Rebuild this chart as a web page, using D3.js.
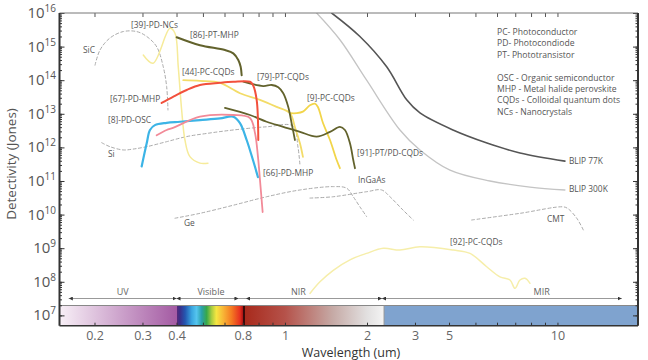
<!DOCTYPE html>
<html>
<head>
<meta charset="utf-8">
<script src="https://cdn.jsdelivr.net/npm/d3@7"></script>
<style>
  body { margin: 0; background: #fff; }
  text { font-family: "Open Sans", sans-serif; }
</style>
</head>
<body>
<svg id="chart" width="648" height="360"></svg>
<script>
// all curves: [wavelength (um), detectivity (Jones)]
const blip77 = [[1.484, 1e16], [1.884, 2.0e15], [2.362, 2.5e14], [2.797, 2.6e13], [3.129, 1.06e13], [4.136, 3.3e12], [5.512, 1.35e12], [7.285, 6.8e11], [10.65, 3.9e11]];
const blip300 = [[1.307, 1e16], [1.591, 1.6e15], [1.994, 1.0e14], [2.642, 3.3e12], [3.129, 8.4e11], [4.033, 2.1e11], [5.653, 1.0e11], [7.929, 6.6e10], [10.65, 5.4e10]];

const siC = [[0.2009, 2.8e14], [0.2095, 7.9e14], [0.2279, 1.8e15], [0.255, 2.8e15], [0.2856, 2.8e15], [0.3109, 2.0e15], [0.3382, 9.9e14], [0.3576, 2.5e14], [0.368, 6.4e13], [0.3721, 1.3e13]];
const si = [[0.2125, 1.38e12], [0.2279, 1.05e12], [0.255, 8.4e11], [0.2768, 8.9e11], [0.3109, 1.05e12], [0.368, 1.48e12], [0.4357, 2.1e12], [0.5161, 2.6e12], [0.6462, 3.3e12], [0.8566, 4.1e12], [1.07, 4.3e12], [1.116, 1.03e12], [1.135, 3.0e11]];
const inGaAs = [[1.235, 3.1e10], [1.504, 3.4e10], [1.994, 4.8e10], [2.264, 5.4e10], [2.428, 3.4e10], [2.71, 1.37e10], [2.957, 6.9e9]];
const ge = [[0.3948, 7.8e9], [0.4876, 1.09e10], [0.6462, 1.9e10], [0.8566, 3.4e10], [1.135, 5.4e10], [1.504, 6.8e10], [1.684, 6.1e10], [1.781, 3.4e10], [1.884, 1.7e10], [1.994, 8.7e9]];
const cmt = [[4.843, 6.9e9], [7.285, 1.09e10], [10.5, 1.7e10], [10.93, 1.5e10], [11.77, 7.8e9], [12.44, 3.5e9]];

const pd39 = [[0.302, 5.6e14], [0.328, 3.2e14], [0.3784, 3.5e15], [0.3948, 2.5e15], [0.4059, 2.5e14], [0.4177, 1.3e13], [0.4295, 1.66e12], [0.448, 5.3e11], [0.4876, 3.4e11], [0.5217, 3.4e11]];
const pt86 = [[0.4005, 1.9e15], [0.4876, 1.1e15], [0.6023, 7.9e14], [0.6462, 6.3e14], [0.674, 4.0e14], [0.6877, 2.5e14], [0.6936, 1.4e14]];
const pc44 = [[0.4234, 1.0e14], [0.4876, 9.5e13], [0.5774, 8.3e13], [0.6838, 4.1e13], [0.8097, 2.6e13], [0.9322, 1.6e13], [1.043, 1.04e13], [1.088, 4.0e12], [1.135, 1.32e12], [1.164, 5.2e11]];
const pc9 = [[1.043, 1.04e13], [1.104, 1.04e13], [1.164, 1.16e13], [1.235, 1.8e13], [1.288, 2.0e13], [1.321, 1.6e13], [1.379, 5.3e12], [1.463, 1.66e12], [1.548, 4.2e11], [1.591, 2.4e11]];
const pt79 = [[0.7031, 9.0e13], [0.8325, 6.7e13], [0.8937, 7.2e13], [0.9449, 6.2e13], [0.9857, 4.1e13], [1.0283, 1.6e13], [1.058, 5.2e12], [1.088, 1.66e12]];
const pd67 = [[0.3527, 2.1e13], [0.3882, 3.2e13], [0.4357, 5.1e13], [0.4876, 7.2e13], [0.5774, 8.4e13], [0.6462, 9.0e13], [0.7437, 9.0e13], [0.7631, 7.2e13], [0.7873, 2.6e13], [0.7981, 1.66e12]];
const pd66 = [[0.3382, 2.3e12], [0.368, 3.3e12], [0.3882, 3.8e12], [0.4876, 8.2e12], [0.6462, 9.2e12], [0.7437, 7.5e12], [0.7761, 2.7e12], [0.7961, 5.2e11], [0.8097, 1.07e11], [0.8282, 1.19e10]];
const pd8 = [[0.2979, 2.7e11], [0.3109, 1.32e12], [0.3196, 3.3e12], [0.3333, 4.6e12], [0.368, 5.4e12], [0.4118, 5.8e12], [0.4876, 6.5e12], [0.5774, 7.3e12], [0.6462, 8.2e12], [0.6838, 5.3e12], [0.7235, 1.66e12], [0.7631, 4.2e11], [0.7961, 1.3e11]];
const pt91 = [[0.6023, 1.5e13], [0.7437, 9.2e12], [0.8566, 5.8e12], [0.9857, 4.1e12], [1.135, 2.9e12], [1.307, 2.1e12], [1.463, 2.9e12], [1.591, 4.1e12], [1.66, 3.3e12], [1.732, 1.32e12], [1.781, 4.2e11], [1.807, 2.4e11]];
const pc92 = [[1.235, 4.5e7], [1.344, 1.0e8], [1.504, 2.2e8], [1.732, 4.5e8], [1.994, 7.0e8], [2.295, 9.9e8], [2.642, 8.8e8], [3.129, 1.1e9], [4.147, 8.8e8], [4.774, 7.0e8], [5.499, 2.8e8], [6.152, 1.4e8], [6.694, 1.13e8], [6.983, 6.4e7], [7.285, 1.13e8], [7.6, 1.27e8], [7.929, 9.0e7]];

// curve labels: [text, wavelength, detectivity] (text starts there)
const curveLabels = [
  ["[39]-PD-NCs", 0.2722, 4.4e15], ["SiC", 0.1814, 7.9e14], ["[86]-PT-MHP", 0.448, 2.2e15],
  ["[44]-PC-CQDs", 0.4188, 1.75e14], ["[79]-PT-CQDs", 0.7892, 1.25e14], ["[67]-PD-MHP", 0.2279, 2.75e13],
  ["[9]-PC-CQDs", 1.204, 2.95e13], ["[8]-PD-OSC", 0.2241, 6.5e12], ["Si", 0.2241, 6.4e11],
  ["[91]-PT/PD-CQDs", 1.837, 6.8e11], ["[66]-PD-MHP", 0.8305, 1.73e11], ["InGaAs", 1.853, 1.07e11],
  ["Ge", 0.426, 5.6e9], ["CMT", 9.15, 7.4e9], ["[92]-PC-CQDs", 4.033, 1.53e9],
  ["BLIP 77K", 11.02, 3.9e11], ["BLIP 300K", 11.02, 5.8e10]
];

const legendLines = ["PC- Photoconductor", "PD- Photocondiode", "PT- Phototransistor", "",
  "OSC - Organic semiconductor", "MHP - Metal halide perovskite", "CQDs - Colloidal quantum dots", "NCs - Nanocrystals"];

// spectral bands above the colour bar
const bandNames = ["UV", "Visible", "NIR", "MIR"];
const bandRanges = [[0.161, 0.40], [0.40, 0.675], [0.72, 2.27], [2.27, 17.2]];
const bandLabelAt = [0.254, 0.535, 1.12, 8.75];

// colour bar stops [wavelength, colour]
const spectrumStops = [
  [0.1488, "#f8f0f7"], [0.40, "#a45ba3"], [0.40, "#5a2a78"], [0.412, "#3a2f8a"], [0.43, "#2456b0"],
  [0.455, "#3aa6e0"], [0.474, "#55c5ee"], [0.495, "#2aa0a8"], [0.516, "#38a848"], [0.538, "#a8cc40"],
  [0.56, "#f5e642"], [0.594, "#f8b436"], [0.637, "#f47a22"], [0.684, "#e63020"], [0.70, "#b01515"],
  [0.70, "#3a0a0a"], [0.712, "#3a0a0a"], [0.712, "#a82a1c"], [1.0, "#b5524a"], [1.5, "#c6aaa6"],
  [2.0, "#e2e0e0"], [2.31, "#f4f4f4"], [2.31, "#7fa3cf"], [19.75, "#7fa3cf"]
];

const xTickValues = [0.2, 0.3, 0.4, 0.5, 0.6, 0.7, 0.8, 0.9, 1, 2, 3, 4, 5, 6, 7, 8, 9, 10];
const xTickLabels = {0.2: "0.2", 0.3: "0.3", 0.4: "0.4", 0.7: "0.8", 1: "1", 2: "2", 3: "3", 4: "5", 10: "10"};
const yDecades = [7, 8, 9, 10, 11, 12, 13, 14, 15, 16];

const olive = "#62622c";
const series = [
  {data: siC, color: "#aaa", width: 1, dash: "3,2.5"},
  {data: si, color: "#aaa", width: 1, dash: "3,2.5"},
  {data: inGaAs, color: "#aaa", width: 1, dash: "3,2.5"},
  {data: ge, color: "#aaa", width: 1, dash: "3,2.5"},
  {data: cmt, color: "#aaa", width: 1, dash: "3,2.5"},
  {data: blip300, color: "#c4c4c4", width: 1.3},
  {data: blip77, color: "#555", width: 1.6},
  {data: pc92, color: "#f6eeaa", width: 1.5},
  {data: pd39, color: "#f6eb9a", width: 1.5},
  {data: pc44, color: "#f3dc68", width: 1.8},
  {data: pc9, color: "#f2d54a", width: 1.8},
  {data: pt91, color: olive, width: 1.8},
  {data: pt79, color: olive, width: 1.8},
  {data: pt86, color: olive, width: 2},
  {data: pd8, color: "#3cb4e6", width: 2.2},
  {data: pd66, color: "#f28a98", width: 1.8},
  {data: pd67, color: "#f2503c", width: 2}
];

const mLeft = 59.5, mRight = 638, mTop = 13, mBottom = 325.7;
const svg = d3.select("#chart");

const x = d3.scaleLog().domain([0.1488, 19.75]).range([mLeft, mRight]);
const y = d3.scaleLog().domain([Math.pow(10, 6.693), 1e16]).range([mBottom, mTop]);

// colour bar
const defs = svg.append("defs");
const grad = defs.append("linearGradient")
  .attr("id", "spec").attr("gradientUnits", "userSpaceOnUse")
  .attr("x1", mLeft).attr("x2", mRight).attr("y1", 0).attr("y2", 0);
spectrumStops.forEach(s => {
  grad.append("stop").attr("offset", (x(s[0]) - mLeft) / (mRight - mLeft)).attr("stop-color", s[1]);
});
defs.append("clipPath").attr("id", "plotclip")
  .append("rect").attr("x", mLeft).attr("y", mTop).attr("width", mRight - mLeft).attr("height", mBottom - mTop);

const barTop = 305.5;
svg.append("rect").attr("x", mLeft).attr("y", barTop).attr("width", mRight - mLeft).attr("height", mBottom - barTop)
  .attr("fill", "url(#spec)");
svg.append("line").attr("x1", mLeft).attr("x2", mRight).attr("y1", barTop).attr("y2", barTop)
  .attr("stroke", "#888").attr("stroke-width", 1);
svg.append("line").attr("x1", x(2.31)).attr("x2", x(2.31)).attr("y1", barTop).attr("y2", mBottom)
  .attr("stroke", "#999").attr("stroke-width", 1);

// band arrows
const arrowY = 298.5;
defs.append("marker").attr("id", "arr")
  .attr("viewBox", "0 0 10 10").attr("refX", 10).attr("refY", 5)
  .attr("markerWidth", 4).attr("markerHeight", 4).attr("markerUnits", "userSpaceOnUse")
  .attr("orient", "auto-start-reverse")
  .append("path").attr("d", "M0,0L10,5L0,10Z").attr("fill", "#333");
svg.append("line").attr("x1", x(0.161)).attr("x2", x(17.2)).attr("y1", arrowY).attr("y2", arrowY)
  .attr("stroke", "#999").attr("stroke-width", 1);
svg.append("g").selectAll("line").data(bandRanges).join("line")
  .attr("x1", d => x(d[0])).attr("x2", d => x(d[1]))
  .attr("y1", arrowY).attr("y2", arrowY)
  .attr("stroke", "#999").attr("stroke-width", 1)
  .attr("marker-start", "url(#arr)").attr("marker-end", "url(#arr)");
svg.append("g").selectAll("text").data(bandNames).join("text")
  .attr("x", (d, i) => x(bandLabelAt[i])).attr("y", 295)
  .attr("text-anchor", "middle").attr("font-size", 9).attr("fill", "#666")
  .text(d => d);

// curves
const line = d3.line()
  .x(d => x(d[0]))
  .y(d => y(d[1]))
  .curve(d3.curveCatmullRom.alpha(0.5));

svg.append("g").attr("clip-path", "url(#plotclip)")
  .selectAll("path").data(series).join("path")
  .attr("d", d => line(d.data))
  .attr("fill", "none")
  .attr("stroke", d => d.color)
  .attr("stroke-width", d => d.width)
  .attr("stroke-dasharray", d => d.dash || null)
  .attr("stroke-linecap", "round");

svg.append("g").selectAll("text").data(curveLabels).join("text")
  .attr("x", d => x(d[1])).attr("y", d => y(d[2]))
  .attr("dy", "0.35em").attr("font-size", 8.4).attr("fill", "#555")
  .text(d => d[0]);

svg.append("g").selectAll("text").data(legendLines).join("text")
  .attr("x", 497).attr("y", (d, i) => 35 + i * 11.4)
  .attr("font-size", 8.6).attr("fill", "#555")
  .text(d => d);

// axes
const allMinor = [];
yDecades.forEach(p => {
  for (let k = 1; k < 10; k++) {
    const v = k * Math.pow(10, p);
    if (v <= 1e16 && v >= y.domain()[0]) allMinor.push(v);
  }
});
const majors = yDecades.map(p => Math.pow(10, p));

function yTicks(axisFn, xpos, len, vals) {
  svg.append("g").attr("transform", `translate(${xpos},0)`)
    .call(axisFn(y).tickValues(vals).tickSize(len).tickFormat(""))
    .call(g => g.select(".domain").remove())
    .selectAll("line").attr("stroke", "#333");
}
yTicks(d3.axisLeft, mLeft, -2.5, allMinor);
yTicks(d3.axisLeft, mLeft, -5, majors);
yTicks(d3.axisRight, mRight, -2.5, allMinor);
yTicks(d3.axisRight, mRight, -5, majors);

svg.append("g").attr("transform", `translate(0,${mTop})`)
  .call(d3.axisTop(x).tickValues(xTickValues).tickSize(-4).tickFormat(""))
  .call(g => g.select(".domain").remove())
  .selectAll("line").attr("stroke", "#555");

const xAxis = svg.append("g").attr("transform", `translate(0,${mBottom})`)
  .call(d3.axisBottom(x).tickValues(xTickValues).tickSize(-3).tickPadding(5.5)
    .tickFormat(d => xTickLabels[d] || ""));
xAxis.select(".domain").remove();
xAxis.selectAll("line").attr("stroke", "#333");
xAxis.selectAll("text").attr("font-family", "'Liberation Sans', Arial, sans-serif")
  .attr("font-size", 12.5).attr("fill", "#666");

// frame
svg.append("line").attr("x1", mLeft).attr("x2", mRight).attr("y1", mTop).attr("y2", mTop).attr("stroke", "#777").attr("stroke-width", 1);
svg.append("line").attr("x1", mLeft).attr("x2", mRight).attr("y1", mBottom).attr("y2", mBottom).attr("stroke", "#333").attr("stroke-width", 1.5);
svg.append("line").attr("x1", mLeft).attr("x2", mLeft).attr("y1", mTop).attr("y2", mBottom).attr("stroke", "#333").attr("stroke-width", 2);
svg.append("line").attr("x1", mRight).attr("x2", mRight).attr("y1", mTop).attr("y2", mBottom).attr("stroke", "#333").attr("stroke-width", 2);

// y tick labels 10^n
const yLab = svg.append("g").selectAll("text").data(yDecades).join("text")
  .attr("x", 56).attr("y", d => y(Math.pow(10, d)) + 5)
  .attr("text-anchor", "end")
  .attr("font-family", "'Liberation Sans', Arial, sans-serif")
  .attr("fill", "#555");
yLab.append("tspan").attr("font-size", 15).text("10");
yLab.append("tspan").attr("font-size", 10).attr("dy", -6).text(d => d);

svg.append("text")
  .attr("transform", `translate(16,164) rotate(-90)`)
  .attr("text-anchor", "middle")
  .attr("font-family", "'Liberation Sans', Arial, sans-serif")
  .attr("font-size", 13.5).attr("fill", "#555")
  .text("Detectivity (Jones)");

svg.append("text")
  .attr("x", 351).attr("y", 357)
  .attr("text-anchor", "middle")
  .attr("font-family", "'Liberation Sans', Arial, sans-serif")
  .attr("font-size", 12.5).attr("fill", "#333")
  .text("Wavelength (um)");
</script>
</body>
</html>
